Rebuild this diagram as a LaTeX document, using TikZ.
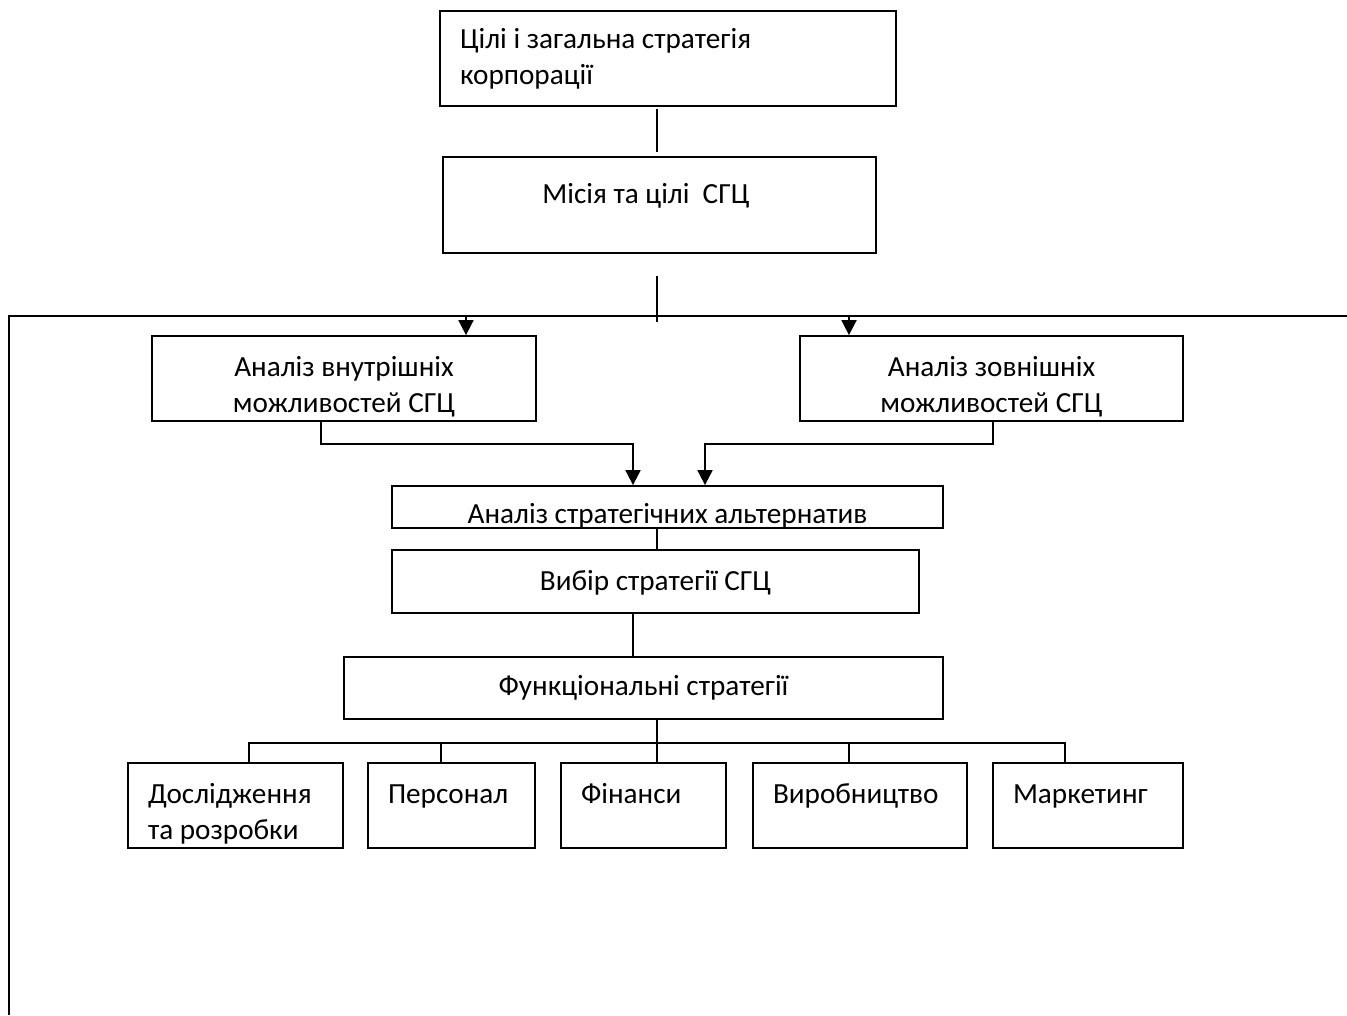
\documentclass[tikz,border=0pt]{standalone}
\usepackage{fontspec}
\setmainfont{Carlito}
\usepackage{tikz}
\usetikzlibrary{positioning, arrows.meta, calc}

\begin{document}
\begin{tikzpicture}[x=1pt,y=-1pt,line width=1.8pt]
    \tikzset{b/.style={draw,line width=1.8pt,inner sep=0pt,font=\fontsize{29.2}{36}\selectfont,text height=20pt,text depth=25pt}, a/.style={-{Triangle[length=15pt,width=15pt]}}}
    \useasboundingbox (0,0) rectangle (1347,1015);
    \coordinate (bus) at (657,743);
    \coordinate (fl) at (9,316); \coordinate (fr) at (1347,316); \coordinate (fb) at (9,1015);
    \node[b,minimum width=456pt,minimum height=95pt,text width=416pt,align=flush left,text depth=41pt] (goals) at (668,58.5) {Цілі і загальна стратегія\\корпорації};
    \node[b,minimum width=433pt,minimum height=96pt,text depth=24pt] (mission) at (659.5,205) {Місія та цілі\ \ СГЦ\kern27pt};
    \node[b,minimum width=384pt,minimum height=85pt,align=center,text height=70pt,text depth=3pt] (inner) at (344,378.5) {Аналіз внутрішніх\\можливостей СГЦ};
    \node[b,minimum width=383pt,minimum height=85pt,align=center,text height=70pt,text depth=3pt] (outer) at (991.5,378.5) {Аналіз зовнішніх\\можливостей СГЦ};
    \node[b,minimum width=551pt,minimum height=42pt,text height=36pt,text depth=4pt] (alt) at (667.5,507) {Аналіз стратегічних альтернатив};
    \node[b,minimum width=527pt,minimum height=63pt,text depth=3pt] (choice) at (655.5,581.5) {Вибір стратегії СГЦ};
    \node[b,minimum width=599pt,minimum height=62pt,text depth=6pt] (func) at (643.5,688) {Функціональні стратегії};
    \node[b,minimum width=215pt,minimum height=85pt,text width=175pt,align=flush left] (rd) at (235.5,805.5) {Дослідження\\та розробки};
    \node[b,minimum width=167pt,minimum height=85pt,text width=127pt,align=flush left] (pers) at (451.5,805.5) {Персонал};
    \node[b,minimum width=165pt,minimum height=85pt,text width=125pt,align=flush left] (fin) at (643.5,805.5) {Фінанси};
    \node[b,minimum width=214pt,minimum height=85pt,text width=174pt,align=flush left] (prod) at (860,805.5) {Виробництво};
    \node[b,minimum width=190pt,minimum height=85pt,text width=150pt,align=flush left] (mkt) at (1088,805.5) {Маркетинг};
    % frame and links
    \draw (fb) -- (fl) -- (fr);
    \draw[shorten <=2pt,shorten >=4pt] (goals.south -| bus) -- (mission.north -| bus);
    \draw ($(mission.south -| bus)+(0,22)$) -- ($(fl -| bus)+(0,6)$);
    \draw[a] ([xshift=122pt]inner.north |- fl) -- ([xshift=122pt]inner.north);
    \draw[a] ([xshift=-142.5pt]outer.north |- fl) -- ([xshift=-142.5pt]outer.north);
    \draw[a] ([xshift=-23pt]inner.south) -- ++(0,22) -| ([xshift=-34.5pt]alt.north);
    \draw[a] ([xshift=1.5pt]outer.south) -- ++(0,22) -| ([xshift=37.5pt]alt.north);
    \draw (alt.south -| bus) -- (choice.north -| bus);
    \draw ([xshift=-22.5pt]choice.south) -- ([xshift=-22.5pt]choice.south |- func.north);
    \draw (func.south -| bus) -- (bus);
    \foreach \n/\dx in {rd/13.5, pers/-10.5, fin/13.5, prod/-11, mkt/-23}
      \draw ([xshift=\dx pt]\n.north) |- (bus);
\end{tikzpicture}
\end{document}
